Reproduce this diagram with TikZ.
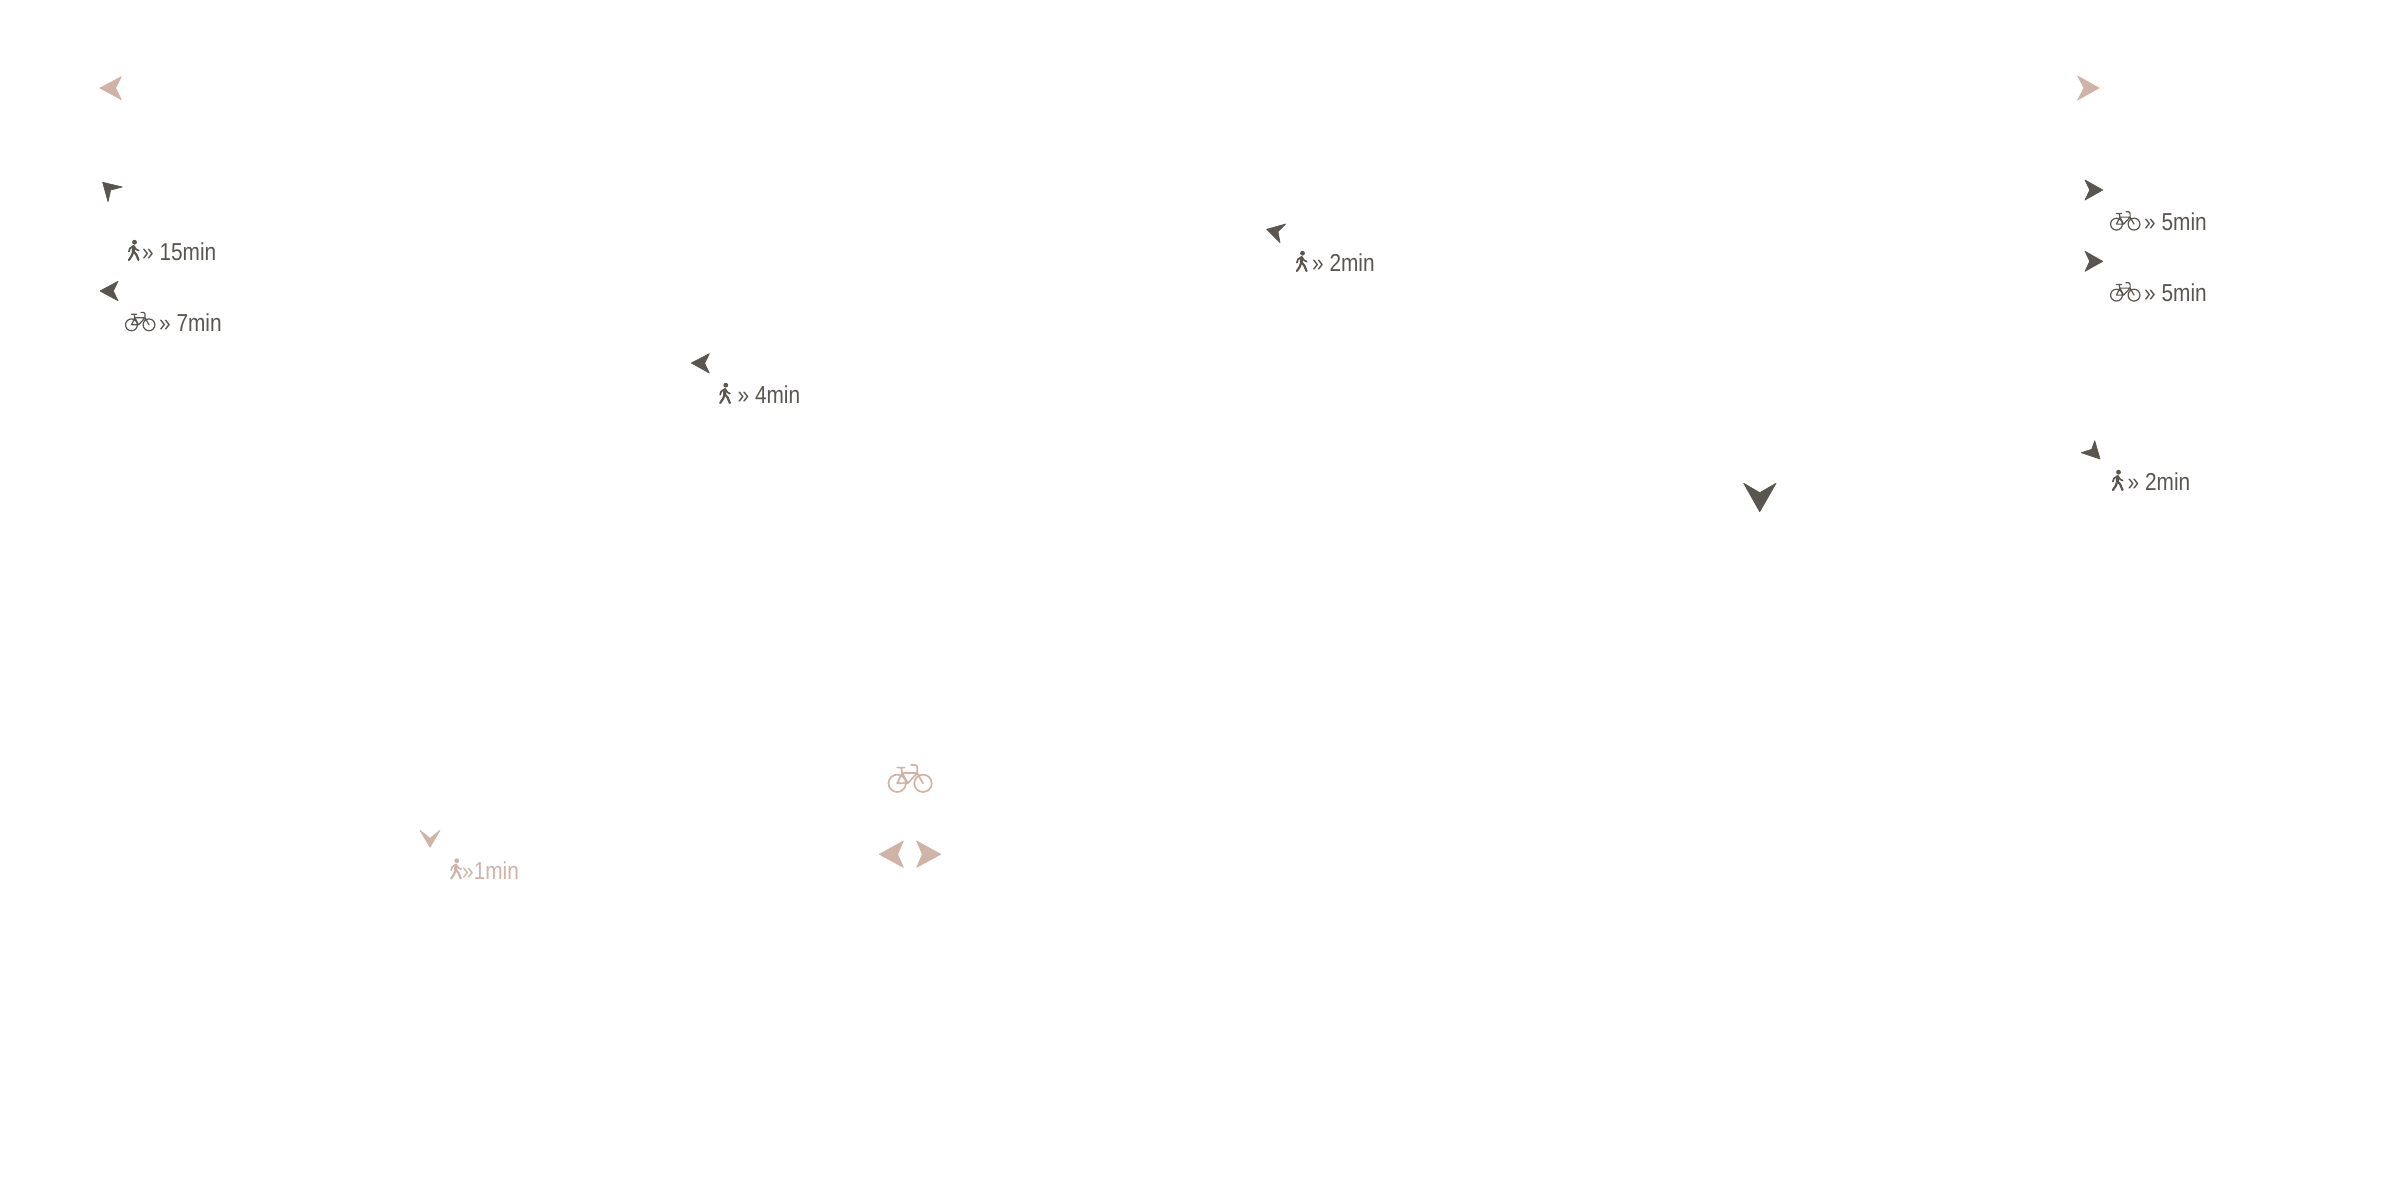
\documentclass[tikz,border=0pt]{standalone}
\usepackage{fontspec}
\setmainfont{Liberation Sans}[FakeStretch=0.85]
\definecolor{inkd}{HTML}{5A554F}
\definecolor{inkp}{HTML}{CFB3A7}
\tikzset{
  darkarrow/.style={fill=inkd,draw=inkd,line width=.7pt,line join=round},
  pinkarrow/.style={fill=inkp,draw=inkp,line width=.7pt,line join=round},
  darklabel/.style={text=inkd,font=\fontsize{24.5}{28}\selectfont,anchor=base west,inner sep=0pt},
  pinklabel/.style={text=inkp,font=\fontsize{24.5}{28}\selectfont,anchor=base west,inner sep=0pt},
  walker/.pic={
    \fill (6.8,2.2) circle (2.4);
    \draw[line width=3.2pt,line cap=round,line join=round]
      (6,6.6) -- (5.6,11);
    \draw[line width=2.2pt,line cap=round,line join=round]
      (5.6,11) -- (8.6,14.6) -- (10.8,20);
    \draw[line width=2.2pt,line cap=round,line join=round]
      (5.6,11) -- (4.2,15.5) -- (1.2,20);
    \draw[line width=1.7pt,line cap=round,line join=round]
      (5.8,6) -- (2.2,8.4) -- (1.2,11.6);
    \draw[line width=1.7pt,line cap=round,line join=round]
      (5.8,6) -- (8.6,9.4) -- (11,10.6);
  },
  bicycle/.pic={
    \draw[line width=\pgfkeysvalueof{/tikz/bikeweight}pt,line cap=round,line join=round]
      (9.5,19.3) circle (8.7)
      (35.3,19.3) circle (8.7)
      (9.5,19.3) -- (14.5,9) -- (29.5,9)
      (9.5,19.3) -- (20,19.3) -- (14.5,9)
      (14.5,9) -- (13.5,4)
      (20,19.3) -- (29.5,9)
      (9.5,3.6) -- (17,3.6)
      (23.5,1) -- (27.5,1) .. controls (30,1.2) and (29.8,4.5) .. (29.5,9) -- (35.3,19.3);
  },
  bikeweight/.initial=1.2
}
\begin{document}
\begin{tikzpicture}[x=1pt,y=-1pt]
\useasboundingbox (0,0) rectangle (2400,1200);
% pink arrows
\filldraw[pinkarrow] (100,88) -- (121.3,76.7) -- (115.7,88) -- (121.3,99.7) -- cycle;
\filldraw[pinkarrow] (2099,88) -- (2077.7,76) -- (2084,88) -- (2077.7,100) -- cycle;
\filldraw[pinkarrow] (879.3,854.3) -- (903.3,841) -- (897.7,854.3) -- (903.3,867.3) -- cycle;
\filldraw[pinkarrow] (940.7,854.3) -- (916.7,841) -- (922.3,854.3) -- (916.7,867.3) -- cycle;
\filldraw[pinkarrow] (430,847.3) -- (420,830.3) -- (430,838.3) -- (440,830.3) -- cycle;
% dark arrows
\filldraw[darkarrow] (102.7,182.3) -- (122.3,187) -- (110.7,190) -- (108,201.7) -- cycle;
\filldraw[darkarrow] (100,291) -- (118,281.3) -- (113.3,291) -- (118,300.7) -- cycle;
\filldraw[darkarrow] (691.3,363) -- (709.3,353.7) -- (704.7,363.3) -- (709.3,373) -- cycle;
\filldraw[darkarrow] (1266.7,229.3) -- (1285.7,224) -- (1278,231.7) -- (1280,242.7) -- cycle;
\filldraw[darkarrow] (2102.7,190) -- (2085,180) -- (2089.7,190) -- (2085,200) -- cycle;
\filldraw[darkarrow] (2102.7,261.3) -- (2085,251.3) -- (2089.7,261.3) -- (2085,271.3) -- cycle;
\filldraw[darkarrow] (2100,459) -- (2081.3,452.7) -- (2091.7,449.3) -- (2094.7,440.7) -- cycle;
\filldraw[darkarrow] (1759.7,511.7) -- (1743.7,483.3) -- (1759.7,492.7) -- (1776,483.3) -- cycle;
% icons
\pic[color=inkd] at (127.7,240) {walker};
\pic[color=inkd] at (719,383) {walker};
\pic[color=inkd] at (1295.7,251) {walker};
\pic[color=inkd] at (2111.7,470) {walker};
\pic[color=inkp] at (450,858.5) {walker};
\pic[color=inkd,scale=.68] at (125,311.7) {bicycle};
\pic[color=inkd,scale=.68] at (2110,211) {bicycle};
\pic[color=inkd,scale=.68] at (2110,282) {bicycle};
\pic[color=inkp,bikeweight=1.7] at (887.7,764) {bicycle};
% labels
\node[darklabel] (t1) at (142,260) {» 15min};
\node[darklabel] (t2) at (159,331.7) {» 7min};
\node[darklabel] (t3) at (737.5,403.3) {» 4min};
\node[darklabel] (t4) at (1312,271.3) {» 2min};
\node[darklabel] (t5) at (2144,230.3) {» 5min};
\node[darklabel] (t6) at (2144,301.3) {» 5min};
\node[darklabel] (t7) at (2127.5,490.5) {» 2min};
\node[pinklabel] (t8) at (462,879.3) {»1min};
\end{tikzpicture}
\end{document}
